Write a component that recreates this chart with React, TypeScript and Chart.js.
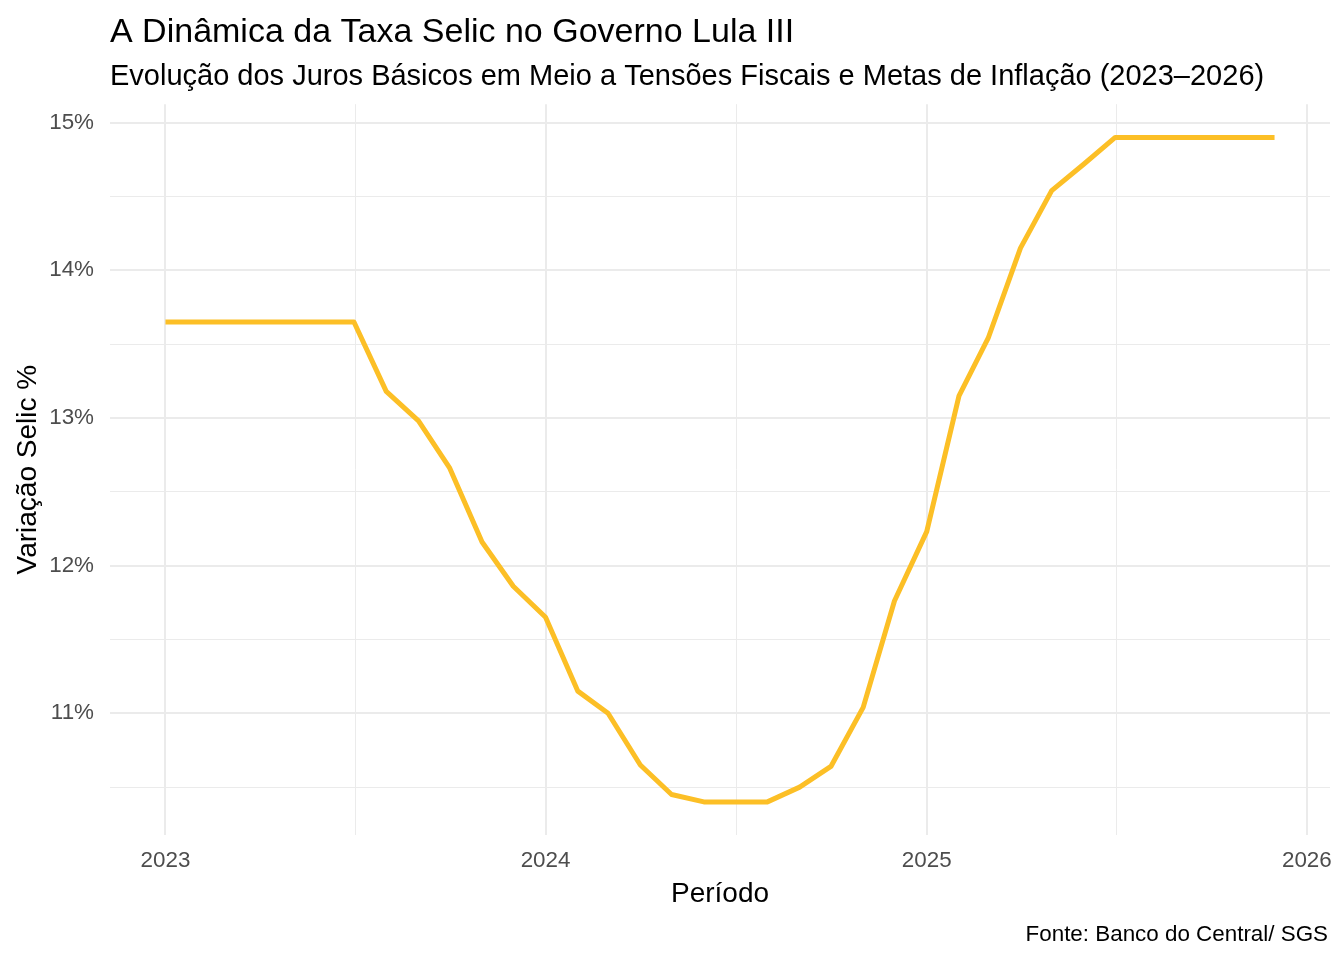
import React, { useEffect, useRef } from "react";
import { Chart, registerables } from "chart.js";

Chart.register(...registerables);

const TITLE = "A Dinâmica da Taxa Selic no Governo Lula III";
const SUBTITLE =
  "Evolução dos Juros Básicos em Meio a Tensões Fiscais e Metas de Inflação (2023–2026)";
const CAPTION = "Fonte: Banco do Central/ SGS";
const X_TITLE = "Período";
const Y_TITLE = "Variação Selic %";

const months: string[] = [
  "2023-01", "2023-02", "2023-03", "2023-04", "2023-05", "2023-06",
  "2023-07", "2023-08", "2023-09", "2023-10", "2023-11", "2023-12",
  "2024-01", "2024-02", "2024-03", "2024-04", "2024-05", "2024-06",
  "2024-07", "2024-08", "2024-09", "2024-10", "2024-11", "2024-12",
  "2025-01", "2025-02", "2025-03", "2025-04", "2025-05", "2025-06",
  "2025-07", "2025-08", "2025-09", "2025-10", "2025-11", "2025-12",
];

const selic: number[] = [
  13.65, 13.65, 13.65, 13.65, 13.65, 13.65,
  13.65, 13.18, 12.98, 12.66, 12.16, 11.86,
  11.65, 11.15, 11.0, 10.65, 10.45, 10.4,
  10.4, 10.4, 10.5, 10.64, 11.04, 11.76,
  12.23, 13.15, 13.54, 14.15, 14.54, 14.72,
  14.9, 14.9, 14.9, 14.9, 14.9, 14.9,
];

const xTickYears: number[] = [2023, 2024, 2025, 2026];
const yMajorTicks: number[] = [11, 12, 13, 14, 15];
const yMinorTicks: number[] = [10.5, 11.5, 12.5, 13.5, 14.5];

const DAY = 86400000;
const toDays = (ym: string) => {
  const [y, m] = ym.split("-").map(Number);
  return Date.UTC(y, m - 1, 1) / DAY;
};
const yearDays = (y: number) => Date.UTC(y, 0, 1) / DAY;

const FONT = "'Liberation Sans', Arial, Helvetica, sans-serif";
const GRID = "#EBEBEB";
const LINE = "#FCBF26";

export default function App() {
  const ref = useRef<HTMLCanvasElement | null>(null);

  useEffect(() => {
    if (!ref.current) return;
    const xs = months.map(toDays);
    const pts = xs.map((x, i) => ({ x, y: selic[i] }));
    const xMin0 = Math.min(...xs);
    const xMax0 = Math.max(...xs);
    const xPad = (xMax0 - xMin0) * 0.05;
    const yMin0 = Math.min(...selic);
    const yMax0 = Math.max(...selic);
    const yPad = (yMax0 - yMin0) * 0.05;

    const xMajor = xTickYears.map(yearDays);
    const xMinor: number[] = [];
    for (let i = 0; i < xMajor.length - 1; i++) xMinor.push((xMajor[i] + xMajor[i + 1]) / 2);
    const xAll = [...xMajor, ...xMinor].sort((a, b) => a - b);
    const yAll = [...yMajorTicks, ...yMinorTicks].sort((a, b) => a - b);

    const textPlugin = {
      id: "texts",
      afterDraw(chart: any) {
        const { ctx, chartArea } = chart;
        ctx.save();
        ctx.fillStyle = "#000000";
        ctx.textAlign = "left";
        ctx.textBaseline = "alphabetic";
        ctx.font = `34px ${FONT}`;
        ctx.fillText(TITLE, chartArea.left, 42);
        ctx.font = `29px ${FONT}`;
        ctx.fillText(SUBTITLE, chartArea.left, 85);
        ctx.font = `22.4px ${FONT}`;
        ctx.textAlign = "right";
        ctx.fillText(CAPTION, 1328, 941);
        ctx.restore();
      },
    };

    const chart = new Chart(ref.current, {
      type: "line",
      data: {
        datasets: [
          {
            data: pts,
            borderColor: LINE,
            borderWidth: 5,
            pointRadius: 0,
            tension: 0,
            fill: false,
            borderJoinStyle: "round",
            borderCapStyle: "butt",
          },
        ],
      },
      options: {
        animation: false,
        responsive: true,
        maintainAspectRatio: false,
        layout: { padding: { top: 104.2, right: 14, left: 0, bottom: 0 } },
        plugins: {
          legend: { display: false },
          tooltip: { enabled: false },
          title: { display: false },
        },
        scales: {
          x: {
            type: "linear",
            min: xMin0 - xPad,
            max: xMax0 + xPad,
            afterFit(scale: any) {
              scale.height = 124.9;
            },
            afterBuildTicks(scale: any) {
              scale.ticks = xAll.map((v) => ({ value: v }));
            },
            border: { display: false },
            grid: {
              drawTicks: false,
              color: GRID,
              lineWidth: (c: any) => (xMajor.includes(c.tick?.value) ? 2 : 1),
            },
            ticks: {
              autoSkip: false,
              maxRotation: 0,
              padding: 12,
              color: "#4D4D4D",
              font: { family: FONT, size: 22.4 },
              callback: (v: any) => {
                const i = xMajor.indexOf(Number(v));
                return i >= 0 ? String(xTickYears[i]) : "";
              },
            },
            title: {
              display: true,
              text: X_TITLE,
              color: "#000000",
              font: { family: FONT, size: 28 },
              padding: { top: 0, bottom: 49 },
            },
          },
          y: {
            type: "linear",
            min: yMin0 - yPad,
            max: yMax0 + yPad,
            afterFit(scale: any) {
              scale.width = 110;
            },
            afterBuildTicks(scale: any) {
              scale.ticks = yAll.map((v) => ({ value: v }));
            },
            border: { display: false },
            grid: {
              drawTicks: false,
              color: GRID,
              lineWidth: (c: any) => (yMajorTicks.includes(c.tick?.value) ? 2 : 1),
            },
            ticks: {
              autoSkip: false,
              padding: 16,
              color: "#4D4D4D",
              font: { family: FONT, size: 22.4 },
              callback: (v: any) => (yMajorTicks.includes(Number(v)) ? `${v}%` : ""),
            },
            title: {
              display: true,
              text: Y_TITLE,
              color: "#000000",
              font: { family: FONT, size: 28 },
              padding: { top: 11.5, bottom: 0 },
            },
          },
        },
      },
      plugins: [textPlugin],
    });
    return () => chart.destroy();
  }, []);

  return (
    <div style={{ position: "fixed", left: 0, top: 0, width: 1344, height: 960, background: "#fff" }}>
      <canvas ref={ref} />
    </div>
  );
}
